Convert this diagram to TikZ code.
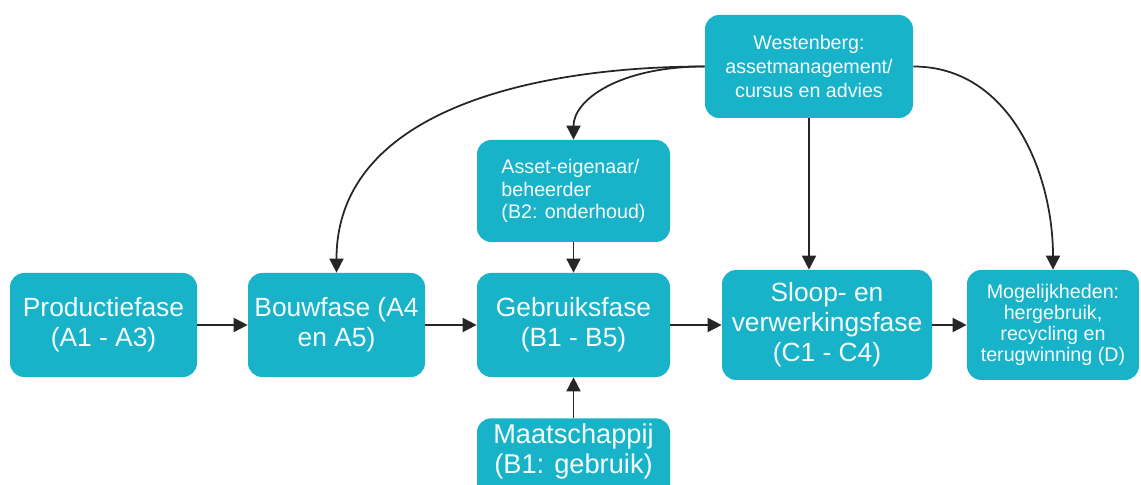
\documentclass[tikz,border=0pt]{standalone}
\usepackage{fontspec}
\setmainfont{Liberation Sans}
\definecolor{teal9}{HTML}{19B3C9}
\definecolor{textwhite}{HTML}{F4FCFD}
\definecolor{arrowgray}{HTML}{262626}
\usetikzlibrary{arrows.meta}

\begin{document}
\begin{tikzpicture}[
    fase/.style={rounded corners=8pt, fill=teal9, text=textwhite, align=center, inner sep=2pt,
      font=\fontsize{15}{17}\selectfont},
    klein/.style={fase, font=\fontsize{11.2}{12.6}\selectfont},
    pijl/.style={draw=arrowgray, line width=1pt, -{Triangle[length=8pt, width=8pt]}}]
  \useasboundingbox (0,0) rectangle (22.82,9.7);

  \node[fase, minimum height=2.08cm, minimum width=3.74cm] at (2.07,3.2) (prod) {Productiefase\\(A1 - A3)};
  \node[fase, minimum height=2.08cm, minimum width=3.54cm] at (6.73,3.2) (bouw) {Bouwfase (A4\\en A5)};
  \node[fase, minimum height=2.08cm, minimum width=3.86cm] at (11.47,3.2) (gebr) {Gebruiksfase\\(B1 - B5)};
  \node[fase, minimum height=2.2cm, minimum width=4.2cm] at (16.54,3.2) (sloop) {Sloop- en\\verwerkingsfase\\(C1 - C4)};
  \node[klein, minimum height=2.2cm, minimum width=3.44cm, font=\fontsize{11.2}{11.8}\selectfont] at (21.06,3.2) (moge) {Mogelijkheden:\\hergebruik,\\recycling en\\terugwinning (D)};

  \node[klein, minimum height=2.06cm, minimum width=4.16cm, font=\fontsize{11.2}{13.4}\selectfont] at (16.18,8.37) (west) {Westenberg:\\assetmanagement/\\cursus en advies};
  \node[klein, minimum height=2.04cm, minimum width=3.86cm, align=left] at (11.47,5.88) (asset) {Asset-eigenaar/\\beheerder\\(B2: onderhoud)};
  % onderkant valt buiten het beeld
  \node[fase, anchor=north, minimum width=3.86cm, inner ysep=3pt, font=\fontsize{15.5}{17}\selectfont] at (11.47,1.34) (maat) {Maatschappij\\(B1: gebruik)\\[0.6cm]};

  \draw[pijl] (prod) -- (bouw);
  \draw[pijl] (bouw) -- (gebr);
  \draw[pijl] (gebr) -- (sloop);
  \draw[pijl] (sloop) -- (moge);
  \draw[pijl] (asset) -- (gebr);
  \draw[pijl] (maat) -- (gebr);

  \draw[pijl] (west.south) -- (west.south |- sloop.north);
  \draw[pijl] (west.east) to[out=0, in=90] (moge.north);
  \draw[pijl] (west.west) to[out=180, in=90] (bouw.north);
  \draw[pijl] (west.west) .. controls +(-1.7,0) and +(0,0.8) .. (asset.north);
\end{tikzpicture}
\end{document}
